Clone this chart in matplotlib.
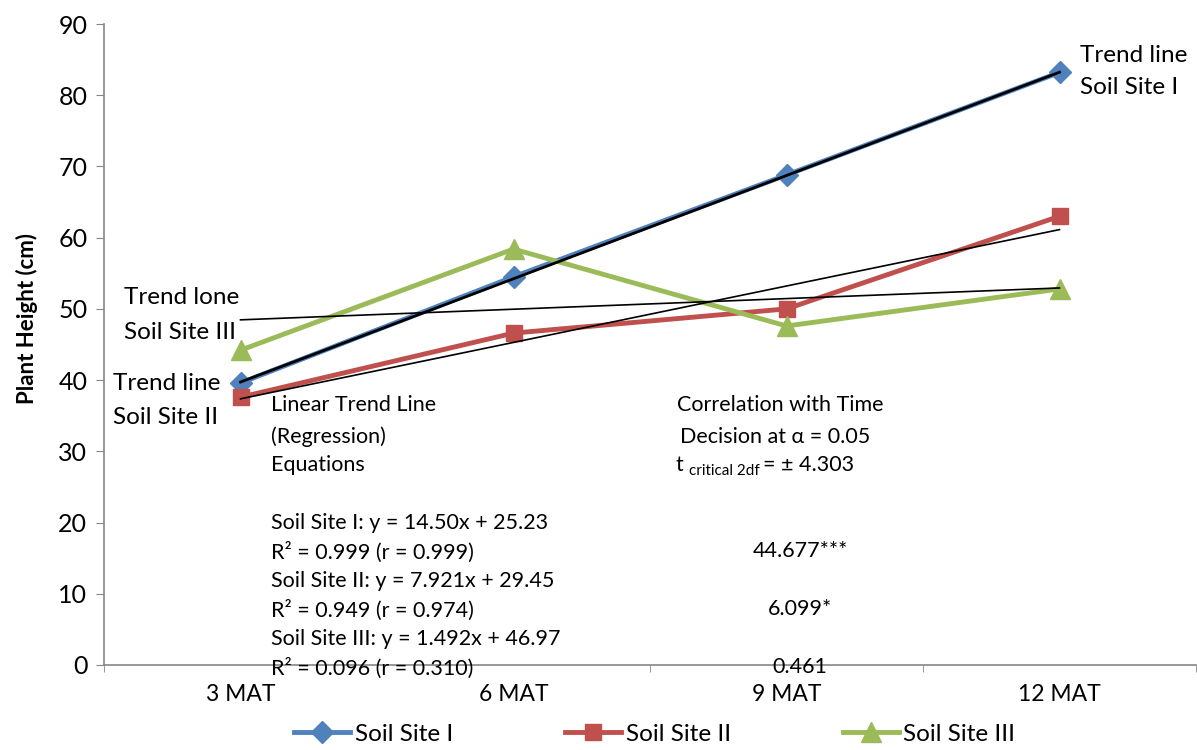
import numpy as np
import matplotlib.pyplot as plt
from matplotlib.ticker import FixedLocator

plt.rcParams['font.family'] = ['Lato', 'DejaVu Sans']

# Data
months = ['3 MAT', '6 MAT', '9 MAT', '12 MAT']
site1 = [39.6, 54.5, 68.8, 83.2]
site2 = [37.6, 46.6, 50.0, 63.0]
site3 = [44.2, 58.4, 47.6, 52.8]

# Regression lines (slope, intercept) as printed on the chart
trend1 = (14.50, 25.23)
trend2 = (7.921, 29.45)
trend3 = (1.492, 46.97)

equations = ['Soil Site I: y = 14.50x + 25.23', 'R² = 0.999 (r = 0.999)',
             'Soil Site II: y = 7.921x + 29.45', 'R² = 0.949 (r = 0.974)',
             'Soil Site III: y = 1.492x + 46.97', 'R² = 0.096 (r = 0.310)']
t_values = ['44.677***', '6.099*', '0.461']

W, H = 1197, 750
fig = plt.figure(figsize=(W / 100, H / 100), dpi=100)
ax = fig.add_axes([104 / W, (H - 665) / H, (1196 - 104) / W, (665 - 24) / H])

x = np.arange(1, len(months) + 1)
blue, red, green = '#4F81BD', '#C0504D', '#9BBB59'

ax.plot(x, site1, color=blue, lw=3.5, marker='D', ms=11, label='Soil Site I', zorder=3)
ax.plot(x, site2, color=red, lw=3.5, marker='s', ms=12, label='Soil Site II', zorder=3)
ax.plot(x, site3, color=green, lw=3.5, marker='^', ms=14, label='Soil Site III', zorder=3)

for (m, b), w in zip([trend1, trend2, trend3], [2.0, 1.2, 1.2]):
    ax.plot(x, m * x + b, color='black', lw=w, zorder=4)

ax.set_xlim(0.5, 4.5)
ax.set_ylim(0, 90)
ax.set_yticks(range(0, 91, 10))
ax.set_xticks(x)
ax.set_xticklabels(months)
ax.xaxis.set_minor_locator(FixedLocator(np.arange(0.5, 4.6, 1)))
ax.tick_params(axis='x', which='major', length=0, pad=14, labelsize=16.5)
ax.tick_params(axis='x', which='minor', length=5, color='#868686')
ax.tick_params(axis='y', length=6, color='#868686', labelsize=18, pad=6)
for s in ['top', 'right']:
    ax.spines[s].set_visible(False)
for s in ['left', 'bottom']:
    ax.spines[s].set_color('#868686')
    ax.spines[s].set_linewidth(1.2)
    ax.spines[s].set_zorder(5)
ax.set_ylabel('Plant Height (cm)', fontsize=16, fontweight='bold')
ax.yaxis.set_label_coords(-0.060, 0.54)


def put(px, py, s, size=15.5, ha='left', **kw):
    fig.text(px / W, 1 - py / H, s, fontsize=size, ha=ha, va='center', **kw)


put(1080, 55, 'Trend line', size=17.5)
put(1080, 88, 'Soil Site I', size=17.5)
put(124, 298, 'Trend lone', size=17.5)
put(124, 333, 'Soil Site III', size=17.5)
put(113, 384, 'Trend line', size=17.5)
put(113, 417, 'Soil Site II', size=17.5)

put(271, 405, 'Linear Trend Line')
put(271, 437, '(Regression)')
put(271, 465, 'Equations')
for i, s in enumerate(equations):
    put(271, 523 + i * 29, s)

put(677, 405, 'Correlation with Time')
put(680, 437, 'Decision at α = 0.05')
put(675, 465, 't')
put(689, 471, 'critical 2df', size=11)
put(763, 465, '= ± 4.303')
for i, s in enumerate(t_values):
    put(800, 551 + i * 58, s, ha='center')

fig.legend(loc='lower center', bbox_to_anchor=(0.547, -0.022), ncol=3, frameon=False,
           fontsize=17.5, handlelength=2.3, columnspacing=4.6, handletextpad=0.2)

fig.savefig('out.png', dpi=100)
